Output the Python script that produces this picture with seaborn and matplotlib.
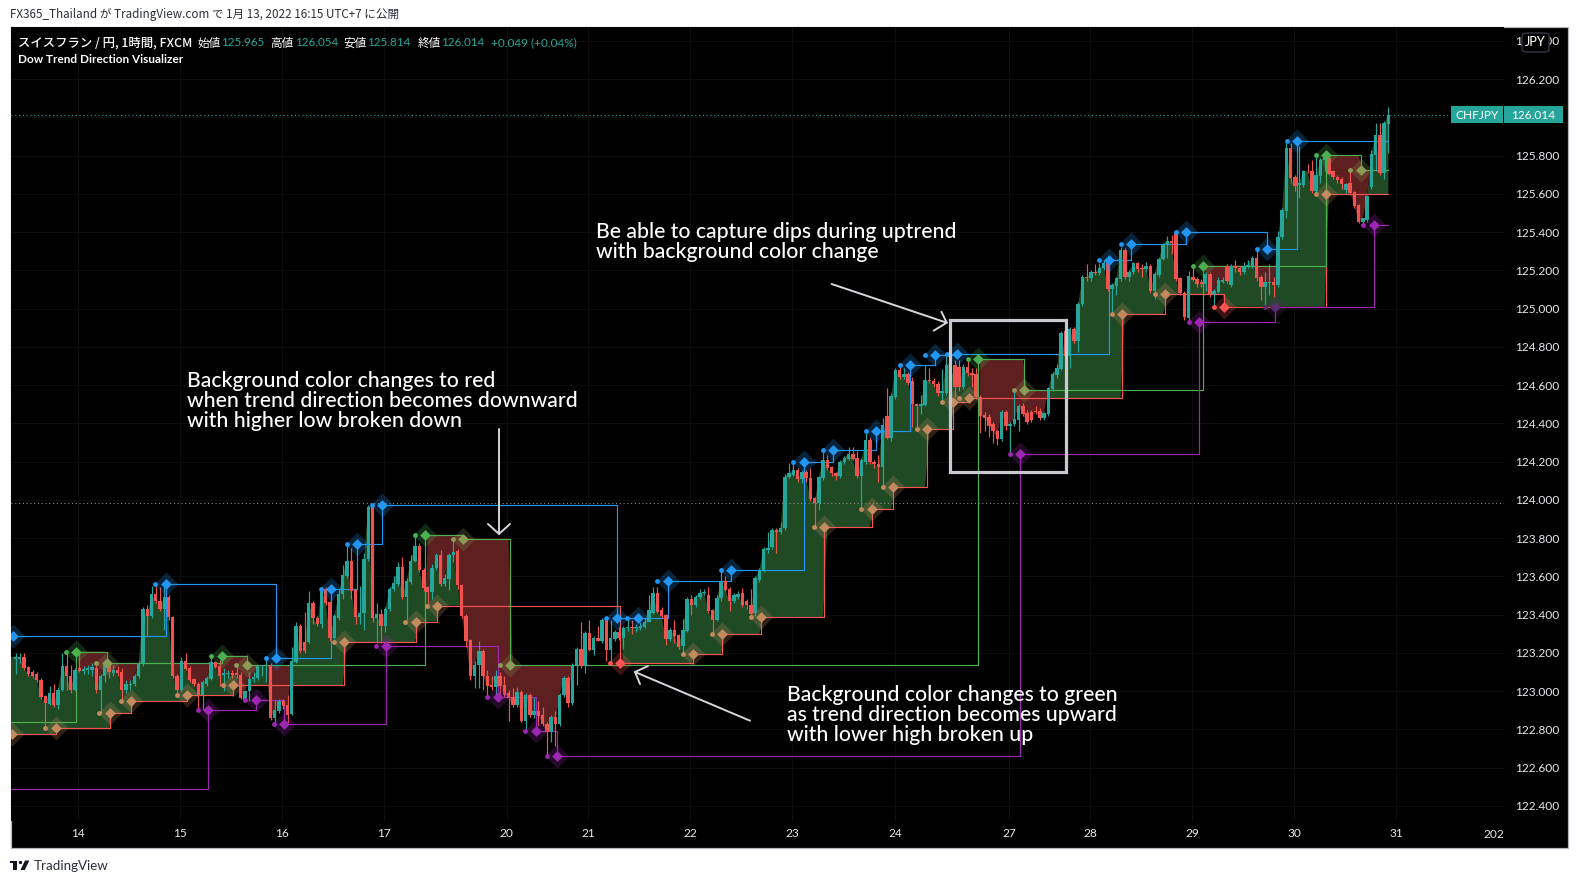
import numpy as np
import matplotlib
matplotlib.use("Agg")
import matplotlib.pyplot as plt
from matplotlib.patches import Rectangle, FancyBboxPatch, Polygon
from matplotlib.lines import Line2D
import seaborn as sns

# ------- candles (CHF/JPY, 1h) -------
OPEN = [123.19,123.19,123.20,123.145,123.12,123.11,123.08,122.995,122.955,123.01,
122.95,123.03,123.15,123.10,123.03,123.14,123.125,123.13,123.13,123.14,
123.03,123.10,123.155,123.115,123.13,123.12,123.03,123.055,123.06,123.10,
123.17,123.45,123.41,123.525,123.49,123.45,123.51,123.405,123.10,123.03,
123.18,123.14,123.085,123.06,123.0,123.06,123.085,123.175,123.15,123.105,
123.11,123.115,123.115,123.105,122.975,123.02,123.085,123.09,123.15,123.155,
123.16,122.88,122.92,122.97,122.95,122.905,123.175,123.36,123.275,123.275,
123.48,123.40,123.37,123.55,123.485,123.30,123.40,123.525,123.62,123.70,
123.545,123.405,123.425,123.71,123.99,123.40,123.42,123.36,123.45,123.55,
123.58,123.665,123.51,123.59,123.70,123.775,123.65,123.56,123.535,123.66,
123.73,123.58,123.605,123.73,123.75,123.575,123.41,123.285,123.10,123.16,
123.23,123.10,123.055,123.045,123.10,
123.054,123.01,122.99,122.95,123.015,122.867,123.0,122.90,122.92,122.90,
122.85,122.81,122.89,122.85,123.0,123.09,122.96,123.15,123.24,123.153,
123.326,123.236,123.296,123.284,123.39,123.236,123.293,123.327,123.296,123.347,
123.357,123.347,123.352,123.357,123.383,123.43,123.53,123.443,123.417,123.293,
123.34,123.313,123.257,123.336,123.50,123.47,123.512,123.53,123.52,123.443,
123.39,123.504,123.596,123.55,123.49,123.513,123.53,123.49,123.47,123.426,
123.60,123.648,123.755,123.772,123.859,123.85,123.87,124.135,124.145,124.17,
124.124,124.157,124.13,124.023,124.0,124.13,124.22,124.184,124.153,124.14,
124.21,124.227,124.253,124.23,124.14,124.214,124.326,124.21,124.2,124.188,
124.45,124.335,124.55,124.69,124.655,124.668,124.63,124.513,124.5,124.508,
124.637,124.634,124.615,124.57,124.57,124.707,124.716,124.707,124.60,124.707,
124.672,124.67,124.55,124.456,124.444,124.41,124.37,124.33,124.473,124.40,
124.41,124.43,124.50,124.465,124.47,124.477,124.477,124.44,124.46,124.59,
124.664,124.695,124.89,124.76,124.90,124.84,125.03,125.174,125.165,125.2,
125.195,125.217,125.243,125.11,125.127,125.16,125.313,125.17,125.197,125.243,
125.22,125.212,125.23,125.10,125.183,125.265,125.338,125.36,125.40,125.165,
125.09,124.958,125.174,125.16,125.148,125.136,125.19,125.084,125.096,125.148,
125.231,125.13,125.231,125.22,125.2,125.226,125.231,125.27,125.17,125.12,
125.14,125.145,125.13,125.38,125.516,125.84,125.69,125.648,125.65,125.724,
125.72,125.62,125.697,125.777,125.788,125.72,125.69,125.68,125.624,125.658,
125.615,125.546,125.456,125.47,125.637,125.806,125.91,125.714,125.965]

CLOSE = [123.20,123.20,123.14,123.11,123.10,123.08,122.99,122.96,123.01,122.95,
123.03,123.15,123.10,123.03,123.13,123.125,123.135,123.14,123.145,123.03,
123.10,123.16,123.12,123.13,123.115,123.03,123.06,123.06,123.10,123.17,
123.45,123.41,123.525,123.49,123.45,123.51,123.405,123.10,123.03,123.18,
123.135,123.08,123.06,123.0,123.07,123.09,123.175,123.145,123.10,123.115,
123.115,123.105,123.105,122.985,123.025,123.085,123.095,123.15,123.155,123.16,
122.88,122.925,122.97,122.945,122.90,123.18,123.36,123.23,123.23,123.48,
123.40,123.37,123.55,123.48,123.30,123.41,123.525,123.625,123.70,123.54,
123.405,123.425,123.71,123.98,123.40,123.42,123.36,123.45,123.55,123.585,
123.665,123.51,123.595,123.70,123.775,123.65,123.555,123.535,123.66,123.73,
123.58,123.61,123.73,123.745,123.575,123.41,123.28,123.10,123.16,123.23,
123.10,123.05,123.045,123.10,123.05,
123.0,122.985,122.95,123.015,122.867,123.0,122.90,122.92,122.893,122.85,
122.81,122.89,122.85,123.0,123.09,122.96,123.158,123.24,123.153,123.326,
123.236,123.296,123.284,123.39,123.236,123.296,123.327,123.296,123.35,123.357,
123.347,123.353,123.36,123.383,123.443,123.53,123.435,123.412,123.293,123.34,
123.31,123.253,123.34,123.50,123.47,123.512,123.53,123.535,123.44,123.39,
123.505,123.59,123.548,123.49,123.52,123.527,123.47,123.468,123.42,123.608,
123.648,123.76,123.765,123.859,123.85,123.87,124.135,124.153,124.17,124.124,
124.157,124.127,124.018,124.0,124.132,124.22,124.18,124.153,124.14,124.21,
124.23,124.253,124.225,124.14,124.22,124.326,124.21,124.2,124.188,124.404,
124.338,124.555,124.69,124.655,124.668,124.624,124.51,124.5,124.513,124.637,
124.63,124.615,124.568,124.58,124.716,124.724,124.603,124.60,124.707,124.672,
124.664,124.55,124.45,124.44,124.40,124.37,124.33,124.473,124.40,124.41,
124.433,124.50,124.461,124.42,124.427,124.47,124.44,124.465,124.594,124.67,
124.70,124.88,124.76,124.90,124.84,125.03,125.17,125.165,125.2,125.195,
125.217,125.243,125.11,125.13,125.165,125.313,125.174,125.2,125.243,125.214,
125.216,125.23,125.10,125.19,125.266,125.344,125.36,125.347,125.162,125.088,
124.963,125.177,125.157,125.136,125.136,125.19,125.084,125.10,125.157,125.157,
125.153,125.231,125.217,125.2,125.226,125.235,125.27,125.166,125.12,125.145,
125.145,125.13,125.38,125.52,125.84,125.685,125.645,125.658,125.724,125.72,
125.62,125.70,125.78,125.797,125.707,125.69,125.676,125.653,125.653,125.61,
125.54,125.456,125.477,125.59,125.81,125.91,125.714,125.97,126.014]

HIGH = [123.22,123.22,123.22,123.15,123.13,123.12,123.09,123.0,123.05,123.06,
123.04,123.22,123.23,123.16,123.14,123.23,123.15,123.16,123.17,123.18,
123.11,123.17,123.17,123.16,123.15,123.14,123.08,123.08,123.11,123.18,
123.46,123.47,123.57,123.58,123.565,123.56,123.52,123.41,123.11,123.2,
123.22,123.15,123.09,123.07,123.08,123.10,123.21,123.18,123.185,123.14,
123.13,123.13,123.155,123.12,123.03,123.12,123.12,123.16,123.16,123.19,
123.17,122.975,122.98,122.98,123.0,123.25,123.38,123.37,123.435,123.54,
123.49,123.41,123.565,123.56,123.49,123.42,123.55,123.675,123.78,123.765,
123.55,123.57,123.74,123.99,123.995,123.48,123.45,123.46,123.56,123.62,
123.69,123.72,123.61,123.73,123.83,123.79,123.66,123.57,123.68,123.74,
123.755,123.63,123.74,123.815,123.76,123.58,123.42,123.295,123.18,123.28,
123.24,123.13,123.10,123.13,123.12,
123.10,123.03,123.04,123.045,123.03,123.01,123.01,122.99,122.97,122.94,
122.86,122.90,122.92,123.01,123.10,123.10,123.17,123.25,123.38,123.335,
123.39,123.31,123.36,123.40,123.40,123.39,123.34,123.355,123.36,123.395,
123.39,123.37,123.38,123.40,123.52,123.56,123.56,123.46,123.42,123.35,
123.39,123.32,123.395,123.51,123.52,123.52,123.55,123.55,123.56,123.45,
123.52,123.65,123.62,123.56,123.53,123.54,123.555,123.50,123.55,123.62,
123.66,123.77,123.85,123.87,123.87,123.90,124.15,124.205,124.21,124.18,
124.17,124.17,124.18,124.03,124.14,124.275,124.25,124.19,124.16,124.22,
124.24,124.29,124.29,124.27,124.23,124.37,124.34,124.22,124.25,124.44,
124.595,124.57,124.70,124.715,124.70,124.68,124.655,124.52,124.56,124.715,
124.70,124.65,124.63,124.695,124.76,124.74,124.74,124.74,124.72,124.75,
124.70,124.70,124.56,124.47,124.46,124.42,124.38,124.48,124.48,124.42,
124.585,124.51,124.52,124.48,124.48,124.50,124.49,124.47,124.60,124.68,
124.72,124.89,124.90,124.91,124.91,125.04,125.18,125.24,125.21,125.24,
125.245,125.26,125.26,125.14,125.17,125.33,125.32,125.21,125.25,125.25,
125.24,125.25,125.24,125.20,125.27,125.35,125.385,125.39,125.41,125.17,
125.10,125.205,125.235,125.17,125.16,125.20,125.20,125.11,125.17,125.17,
125.24,125.24,125.26,125.23,125.25,125.26,125.28,125.31,125.18,125.20,
125.24,125.17,125.41,125.53,125.87,125.87,125.70,125.85,125.73,125.76,
125.78,125.81,125.79,125.81,125.80,125.73,125.70,125.69,125.66,125.73,
125.62,125.55,125.48,125.60,125.83,125.97,125.97,125.98,126.054]

LOW = [123.11,123.17,123.13,123.10,123.09,123.07,122.98,122.83,122.95,122.94,
122.93,123.02,123.03,123.01,123.02,123.12,123.11,123.11,123.10,123.01,
122.91,123.07,123.09,123.10,123.10,122.97,123.01,123.03,123.05,123.09,
123.15,123.31,123.40,123.48,123.44,123.34,123.39,123.09,123.00,123.02,
123.13,123.07,123.05,122.925,122.925,123.05,123.08,123.14,123.05,123.02,
123.09,123.09,123.09,122.98,122.97,122.97,123.07,123.08,123.10,123.07,
122.87,122.845,122.91,122.93,122.85,122.90,123.17,123.22,123.22,123.27,
123.37,123.36,123.35,123.47,123.28,123.29,123.39,123.50,123.61,123.50,
123.37,123.37,123.34,123.70,123.38,123.27,123.27,123.33,123.44,123.54,
123.57,123.50,123.39,123.58,123.69,123.64,123.54,123.47,123.50,123.65,
123.57,123.57,123.545,123.69,123.55,123.40,123.25,123.08,123.04,123.04,
123.03,122.99,123.03,122.99,123.0,
122.99,122.865,122.94,122.94,122.86,122.82,122.89,122.88,122.84,122.84,
122.685,122.76,122.735,122.84,122.99,122.94,122.95,123.055,123.14,123.115,
123.23,123.21,123.28,123.27,123.18,123.175,123.28,123.285,123.24,123.335,
123.32,123.33,123.34,123.35,123.38,123.42,123.43,123.40,123.26,123.28,
123.27,123.24,123.22,123.33,123.417,123.46,123.50,123.52,123.43,123.32,
123.385,123.49,123.54,123.44,123.48,123.50,123.46,123.45,123.40,123.41,
123.59,123.64,123.74,123.76,123.74,123.84,123.86,124.13,124.14,124.11,
124.10,124.11,124.01,123.873,123.96,124.12,124.17,124.14,124.12,124.13,
124.20,124.22,124.22,124.13,123.96,124.20,124.20,124.18,124.11,124.08,
124.33,124.32,124.54,124.64,124.64,124.61,124.395,124.395,124.46,124.50,
124.62,124.60,124.555,124.52,124.56,124.69,124.55,124.58,124.59,124.66,
124.60,124.54,124.36,124.37,124.34,124.31,124.30,124.32,124.38,124.25,
124.40,124.37,124.45,124.41,124.42,124.46,124.43,124.43,124.45,124.58,
124.65,124.69,124.75,124.70,124.83,124.785,125.02,125.15,125.15,125.18,
125.18,125.21,125.10,124.98,125.08,125.15,125.16,125.15,125.19,125.20,
125.17,125.20,125.09,125.06,125.17,125.26,125.27,125.29,125.15,125.08,
124.95,124.935,125.15,125.12,125.12,125.10,125.07,125.02,125.09,125.14,
125.14,125.12,125.20,125.18,125.19,125.22,125.22,125.15,125.05,125.02,
125.08,125.07,125.12,125.37,125.48,125.66,125.62,125.58,125.64,125.71,
125.61,125.59,125.66,125.72,125.70,125.68,125.66,125.63,125.61,125.60,
125.53,125.45,125.44,125.46,125.63,125.72,125.70,125.68,125.814]

# ------- indicator levels: bar number where a level begins, and the level -------
HIGH_AT = [-0.6,35.3,61.4,74.3,80.4,86.3,141.4,146.4,153.4,168.4,185.4,192.4,202.5,210.5,216.4,221.5,257.3,262.5,275.5,294.5,301.6]
HIGH_LV = [123.308,123.576,123.192,123.55,123.784,123.987,123.40,123.40,123.594,123.65,124.214,124.272,124.373,124.715,124.766,124.77,125.259,125.342,125.404,125.316,125.876]
RISE_AT = [-0.9,9.45,22.2,27.25,40.4,51.25,77.4,94.2,99.25,142.3,159.5,166.3,175.5,190.3,201.4,206.5,214.5,220.5,224.4,260.4,270.5,284.4,308.4]
RISE_LV = [122.798,122.829,122.907,122.968,123.002,123.054,123.275,123.383,123.466,123.166,123.213,123.317,123.405,123.873,123.966,124.08,124.381,124.521,124.542,124.978,125.082,125.018,125.601]
FALL_AT = [-1.0,14.3,21.45,48.5,54.4,96.4,105.4,116.4,226.5,237.3,279.5,308.4,316.5]
FALL_LV = [122.86,123.227,123.166,123.206,123.156,123.833,123.814,123.156,124.745,124.584,125.231,125.805,125.726]
LOW_AT = [-1.0,45.4,56.5,63.25,87.25,113.4,122.4,127.5,236.4,278.5,296.4,319.5]
LOW_LV = [122.512,122.924,122.974,122.85,123.255,122.99,122.813,122.685,124.252,124.937,125.015,125.44]

DAY_AT = [14.8,38.8,62.8,86.8,115.6,134.7,158.7,182.8,206.9,233.8,252.8,276.8,300.8,324.8]
DAY_LABELS = ["14","15","16","17","20","21","22","23","24","27","28","29","30","31"]
PRICE_TICKS = [122.4,122.6,122.8,123.0,123.2,123.4,123.6,123.8,124.0,124.2,124.4,124.6,124.8,125.0,125.2,125.4,125.6,125.8,126.0,126.2,126.4]
LAST_PRICE = 126.014
DOTTED_LEVEL = 123.985

# the readings above used a slightly different price scale than the axis labels give
READ_SCALE = 192.6 / 191.3
def cal(v):
    return 126.2 - (126.2 - np.asarray(v, dtype=float)) * READ_SCALE

TEAL = "#26a69a"; RED = "#ef5350"
BLUE = "#2196f3"; LRED = "#ff5252"; GREEN = "#4caf50"; PURPLE = "#9c27b0"
TAN = "#c38a60"; OLIVE = "#8b9b58"; DIMPURPLE = "#5c2a6e"
FILL_UP = "#204a24"; FILL_DN = "#5d1f1f"
UI = "Lato"; CJK = ["Noto Sans CJK JP", "DejaVu Sans"]

sns.set_theme(style="dark", rc={"axes.facecolor": "black", "figure.facecolor": "white",
                                "axes.grid": True, "grid.color": "#0d0d0d", "grid.linewidth": 0.8})
W, H = 1578, 883
fig = plt.figure(figsize=(W / 100, H / 100), dpi=100)

def fx(x): return x / W
def fy(y): return 1 - y / H

fig.add_artist(Rectangle((fx(11), fy(848)), fx(1557), 821 / H, transform=fig.transFigure,
                         facecolor="black", edgecolor="#b2b5be", lw=0.9, zorder=-1))
ax = fig.add_axes([fx(11), fy(821), fx(1493), 794 / H], zorder=0)
ax.set_xlim(-1.06, 350.2)
ax.set_ylim(126.2 - (821 - 79) / 191.3, 126.2 + (79 - 27) / 191.3)
for s in ax.spines.values():
    s.set_visible(False)

o, h, l, c = cal(OPEN), cal(HIGH), cal(LOW), cal(CLOSE)
idx = np.arange(len(c))
high_lv, rise_lv, fall_lv, low_lv = cal(HIGH_LV), cal(RISE_LV), cal(FALL_LV), cal(LOW_LV)

def at_bars(at, lv):
    return np.array(lv)[np.clip(np.searchsorted(at, idx, side="right") - 1, 0, None)]

rise = at_bars(RISE_AT, rise_lv)
fall = at_bars(FALL_AT, fall_lv)
X0 = ax.get_xlim()[0]
xf = np.r_[X0, idx]
cf = np.r_[c[0], c]
rf = np.r_[rise[0], rise]
ff = np.r_[fall[0], fall]
ax.fill_between(xf, cf, rf, where=cf >= rf, interpolate=True, color=FILL_UP, lw=0, zorder=1)
ax.fill_between(xf, cf, ff, where=cf <= ff, interpolate=True, color=FILL_DN, lw=0, zorder=1)

ax.axhline(DOTTED_LEVEL, color="#8a8a8a", lw=0.8, ls=(0, (1, 2.4)), zorder=1.5)
ax.axhline(LAST_PRICE, color=TEAL, lw=0.8, ls=(0, (1, 2.4)), zorder=1.5)

def steps(at, lv, col):
    x = list(at) + [idx[-1]]
    y = list(lv) + [lv[-1]]
    sns.lineplot(x=x, y=y, drawstyle="steps-post", color=col, lw=0.85, sort=False,
                 estimator=None, ax=ax, legend=False, zorder=2)
steps(HIGH_AT, high_lv, BLUE)
steps(RISE_AT, rise_lv, LRED)
steps(FALL_AT, fall_lv, GREEN)
steps(LOW_AT, low_lv, PURPLE)

up = c >= o
cols = np.where(up, TEAL, RED)
ax.vlines(idx, l, h, colors=cols, lw=0.85, zorder=3)
ax.bar(idx, np.abs(c - o), bottom=np.minimum(o, c), width=0.8, color=cols, lw=0, zorder=3)

def diamonds(at, lv, colors):
    for a, v, col in zip(at, lv, colors):
        sns.scatterplot(x=[a], y=[v], marker="D", s=150, color=col, alpha=0.24, linewidth=0, ax=ax, legend=False, zorder=4)
        sns.scatterplot(x=[a - 2.45], y=[v], marker="o", s=12, color=col, linewidth=0, ax=ax, legend=False, zorder=5)
        sns.scatterplot(x=[a], y=[v], marker="D", s=30, color=col, linewidth=0, ax=ax, legend=False, zorder=5)

diamonds(HIGH_AT, high_lv, [BLUE] * len(HIGH_AT))
diamonds(RISE_AT, rise_lv, [LRED if a in (142.3, 284.4) else TAN for a in RISE_AT])
diamonds(FALL_AT[1:], fall_lv[1:], [GREEN if a in (14.3, 48.5, 96.4, 226.5, 279.5, 308.4) else OLIVE for a in FALL_AT[1:]])
diamonds(LOW_AT[1:], low_lv[1:], [DIMPURPLE if a == 296.4 else PURPLE for a in LOW_AT[1:]])

ax.yaxis.tick_right()
ax.set_yticks(PRICE_TICKS)
# the 126.000 label lies under the last-price tag in the reference
ax.set_yticklabels(["" if p == 126.0 else f"{p:.3f}" for p in PRICE_TICKS], fontfamily=UI, fontsize=8.6, color="#e8e8ee")
ax.set_xticks(DAY_AT)
ax.set_xticklabels(DAY_LABELS, fontfamily=UI, fontsize=8.6, color="#e8e8ee")
ax.tick_params(axis="y", length=0, pad=7.8)
ax.tick_params(axis="x", length=0, pad=5.2)
ax.set_xlabel(""); ax.set_ylabel("")
ax.grid(True)

def t(x, y, s, **kw):
    kw.setdefault("va", "baseline")
    return fig.text(fx(x), fy(y), s, **kw)

t(1504, 838, "202", ha="right", family=UI, fontsize=8.6, color="#e8e8ee")

# header and legend
t(10.5, 18, "FX365_Thailand が TradingView.com で 1月 13, 2022 16:15 UTC+7 に公開", family=CJK, fontsize=8.4, color="#2a2e39")
t(18.4, 46.5, "スイスフラン / 円, 1時間, FXCM", family=CJK, fontsize=8.9, color="white", fontweight="medium")
for xl, lab, xv, val in [(197, "始値", 221.5, "125.965"), (270.5, "高値", 295, "126.054"),
                         (343.7, "安値", 367, "125.814"), (417.6, "終値", 441, "126.014")]:
    t(xl, 46.5, lab, family=CJK, fontsize=8.4, color="white")
    t(xv, 46.5, val, family=UI, fontsize=8.4, color=TEAL)
t(491, 46.5, "+0.049 (+0.04%)", family=UI, fontsize=8.5, color=TEAL)
t(18.4, 62.7, "Dow Trend Direction Visualizer", family=UI, fontsize=8.5, color="white", fontweight="bold")

# price tags
for x0, x1, txt in [(1451, 1503.3, "CHFJPY"), (1504.3, 1562.7, "126.014")]:
    fig.add_artist(Rectangle((fx(x0), fy(122.7)), fx(x1 - x0), 16.7 / H, transform=fig.transFigure,
                             facecolor=TEAL, edgecolor="none", zorder=6))
    t((x0 + x1) / 2, 119, txt, ha="center", family=UI, fontsize=8.6, color="white", zorder=7)
fig.add_artist(FancyBboxPatch((fx(1522), fy(52)), fx(27), 19 / H, transform=fig.transFigure,
                              boxstyle="round,pad=0,rounding_size=0.003", facecolor="black",
                              edgecolor="#3a3e48", lw=0.9, zorder=6))
t(1535.5, 46.5, "JPY", ha="center", family=UI, fontsize=9, color="white", zorder=7, fontweight="medium")

# annotations
NOTE = dict(family=UI, fontsize=15.2, color="white", fontweight="medium")
for i, s in enumerate(["Background color changes to red", "when trend direction becomes downward", "with higher low broken down"]):
    t(187.3, 386.7 + 20 * i, s, zorder=8, **NOTE)
for i, s in enumerate(["Be able to capture dips during uptrend", "with background color change"]):
    t(596, 238 + 20 * i, s, zorder=8, **NOTE)
for i, s in enumerate(["Background color changes to green", "as trend direction becomes upward", "with lower high broken up"]):
    t(787.3, 700.7 + 20 * i, s, zorder=8, **NOTE)

def seg(pts, lw=1.4, col="#d6d6dc"):
    fig.add_artist(Line2D([fx(p[0]) for p in pts], [fy(p[1]) for p in pts], transform=fig.transFigure,
                          color=col, lw=lw, zorder=8, solid_capstyle="round", solid_joinstyle="round"))

seg([(499, 429), (499, 534)]); seg([(488, 524), (499, 534), (510, 524)])
seg([(831.6, 284), (946.7, 322.7)]); seg([(941.4, 311.7), (946.7, 322.7), (933.6, 330.7)])
seg([(750, 720.7), (635, 672)]); seg([(648, 666), (635, 672), (640, 684)])
fig.add_artist(Rectangle((fx(950), fy(472)), fx(116), 152 / H, transform=fig.transFigure,
                         facecolor="none", edgecolor="#c8c9d0", lw=2.3, zorder=8))

# logo
LOGO = "#131722"
for poly in ([(10, 860.5), (17, 860.5), (17, 870), (13.3, 870), (13.3, 863), (10, 863)],
             [(20.5, 870), (25, 860.5), (29.3, 860.5), (24.8, 870)]):
    fig.add_artist(Polygon([(fx(a), fy(b)) for a, b in poly], transform=fig.transFigure, facecolor=LOGO, edgecolor="none"))
fig.add_artist(Line2D([fx(20.3)], [fy(862)], transform=fig.transFigure, marker="o", ms=2.4, color=LOGO, mew=0))
t(33.3, 870.5, "TradingView", family=UI, fontsize=9.6, color="#2a2e39")

fig.savefig("out.png", dpi=100)
